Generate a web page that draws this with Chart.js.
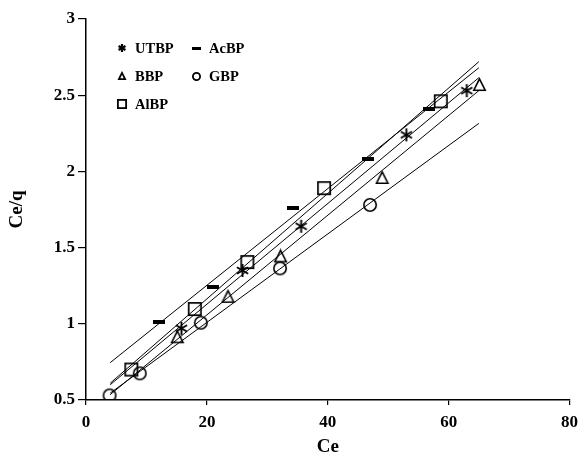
<!DOCTYPE html>
<html><head><meta charset="utf-8">
<script src="https://cdn.jsdelivr.net/npm/chart.js@4.4.1/dist/chart.umd.min.js"></script>
<style>html,body{margin:0;padding:0;background:#fff}#wrap{width:585px;height:456px;position:relative}</style>
</head><body><div id="wrap"><canvas id="c"></canvas></div>
<script>
const seriesNames = ['UTBP', 'AcBP', 'BBP', 'GBP', 'AlBP'];
const utbpX = [15.8, 25.9, 35.6, 53.0, 63.0];
const utbpY = [0.97, 1.35, 1.64, 2.24, 2.53];
const acbpX = [12.0, 21.0, 34.3, 46.6, 56.7];
const acbpY = [1.01, 1.24, 1.76, 2.08, 2.41];
const bbpX = [15.1, 23.5, 32.2, 49.0, 65.1];
const bbpY = [0.915, 1.18, 1.445, 1.96, 2.57];
const gbpX = [3.9, 8.9, 19.0, 32.1, 47.0];
const gbpY = [0.53, 0.675, 1.007, 1.364, 1.78];
const albpX = [7.5, 18.0, 26.7, 39.4, 58.7];
const albpY = [0.70, 1.097, 1.405, 1.89, 2.46];
// trend line values read at Ce = 4 and Ce = 65
const trendX = [4, 65];
const utbpTrend = [0.60, 2.615];
const acbpTrend = [0.745, 2.68];
const bbpTrend = [0.535, 2.53];
const gbpTrend = [0.545, 2.315];
const albpTrend = [0.61, 2.72];
const xTicks = [0, 20, 40, 60, 80];
const yTicks = [0.5, 1, 1.5, 2, 2.5, 3];

function mk(w, h, draw) {
  const c = document.createElement('canvas');
  c.width = w; c.height = h;
  const g = c.getContext('2d');
  g.strokeStyle = '#000'; g.fillStyle = '#000';
  draw(g, w, h);
  return c;
}
function asterisk(s, lw) {
  return mk(s, s, (g, w, h) => {
    g.lineWidth = lw;
    const cx = w / 2, cy = h / 2, r = s / 2 - 1;
    g.beginPath();
    for (let a = 0; a < 3; a++) {
      const ang = Math.PI / 2 + a * Math.PI / 3;
      g.moveTo(cx + r * Math.cos(ang), cy + r * Math.sin(ang));
      g.lineTo(cx - r * Math.cos(ang), cy - r * Math.sin(ang));
    }
    g.stroke();
  });
}
function triangle(s, lw) {
  return mk(s + 2, s + 2, (g, w, h) => {
    g.lineWidth = lw;
    g.beginPath();
    g.moveTo(w / 2, 1 + lw / 2);
    g.lineTo(w - 1 - lw / 2, h - 1 - lw / 2);
    g.lineTo(1 + lw / 2, h - 1 - lw / 2);
    g.closePath();
    g.stroke();
  });
}
function circle(s, lw) {
  return mk(s + 2, s + 2, (g, w, h) => {
    g.lineWidth = lw;
    g.beginPath();
    g.arc(w / 2, h / 2, s / 2 - lw / 2, 0, Math.PI * 2);
    g.stroke();
  });
}
function square(s, lw) {
  return mk(s + 2, s + 2, (g, w, h) => {
    g.lineWidth = lw;
    g.strokeRect(1 + lw / 2, 1 + lw / 2, s - lw, s - lw);
  });
}
function dash(w0, h0) {
  return mk(w0, h0, (g, w, h) => { g.fillRect(0, 0, w, h); });
}

const markers = {
  UTBP: asterisk(15, 1.9), AcBP: dash(12, 4), BBP: triangle(13, 1.6),
  GBP: circle(14, 1.6), AlBP: square(14, 1.7)
};
const legendMarkers = {
  UTBP: asterisk(10, 2.2), AcBP: dash(9, 3), BBP: triangle(8, 1.8),
  GBP: circle(9, 1.8), AlBP: square(10, 1.8)
};

const xs = [utbpX, acbpX, bbpX, gbpX, albpX];
const ys = [utbpY, acbpY, bbpY, gbpY, albpY];
const trends = [utbpTrend, acbpTrend, bbpTrend, gbpTrend, albpTrend];

const datasets = [];
trends.forEach((t, i) => {
  datasets.push({
    label: seriesNames[i] + ' fit',
    data: trendX.map((x, k) => ({x: x, y: t[k]})),
    showLine: true, borderColor: '#000', borderWidth: 1, pointRadius: 0, fill: false
  });
});
seriesNames.forEach((n, i) => {
  datasets.push({
    label: n,
    data: xs[i].map((x, k) => ({x: x, y: ys[i][k]})),
    showLine: false, pointStyle: markers[n], pointRadius: 7,
    borderColor: '#000', backgroundColor: 'rgba(0,0,0,0)'
  });
});

const legendPlugin = {
  id: 'cornerLegend',
  afterDatasetsDraw(chart) {
    const ctx = chart.ctx;
    const items = [
      ['UTBP', 122, 48], ['AcBP', 196, 48],
      ['BBP', 122, 76], ['GBP', 196, 76],
      ['AlBP', 122, 104]
    ];
    ctx.save();
    ctx.font = 'bold 14.5px "Liberation Serif"';
    ctx.fillStyle = '#000';
    ctx.textBaseline = 'middle';
    ctx.textAlign = 'left';
    items.forEach(([n, x, y]) => {
      const m = legendMarkers[n];
      ctx.drawImage(m, Math.round(x - m.width / 2), Math.round(y - m.height / 2));
      ctx.fillText(n, x + 13, y + 1);
    });
    ctx.restore();
  }
};

const tickFont = {family: '"Liberation Serif"', size: 17, weight: 'bold'};
const titleFont = {family: '"Liberation Serif"', size: 19, weight: 'bold', lineHeight: 1};

new Chart(document.getElementById('c'), {
  type: 'scatter',
  data: {datasets: datasets},
  options: {
    responsive: true, maintainAspectRatio: false, animation: false,
    layout: {padding: {left: 0, right: 11, top: 19, bottom: 0}},
    plugins: {legend: {display: false}, tooltip: {enabled: false}},
    scales: {
      x: {
        type: 'linear', min: 0, max: 80,
        afterBuildTicks: s => { s.ticks = xTicks.map(v => ({value: v})); },
        afterFit: s => { s.height = 56; },
        ticks: {font: tickFont, color: '#000', padding: 7, callback: v => String(v)},
        grid: {drawOnChartArea: false, tickLength: 5, color: '#000', lineWidth: 1.2},
        border: {color: '#000', width: 1.5},
        title: {display: true, text: 'Ce', font: titleFont, color: '#000', padding: {top: 2, bottom: -1}}
      },
      y: {
        type: 'linear', min: 0.5, max: 3,
        afterBuildTicks: s => { s.ticks = yTicks.map(v => ({value: v})); },
        afterFit: s => { s.width = 86; },
        ticks: {font: tickFont, color: '#000', padding: 3, callback: v => String(v)},
        grid: {drawOnChartArea: false, tickLength: 8, color: '#000', lineWidth: 1.2},
        border: {color: '#000', width: 1.5},
        title: {display: true, text: 'Ce/q', font: titleFont, color: '#000', padding: {top: 8, bottom: 0}}
      }
    }
  },
  plugins: [legendPlugin]
});
</script>
</body></html>
